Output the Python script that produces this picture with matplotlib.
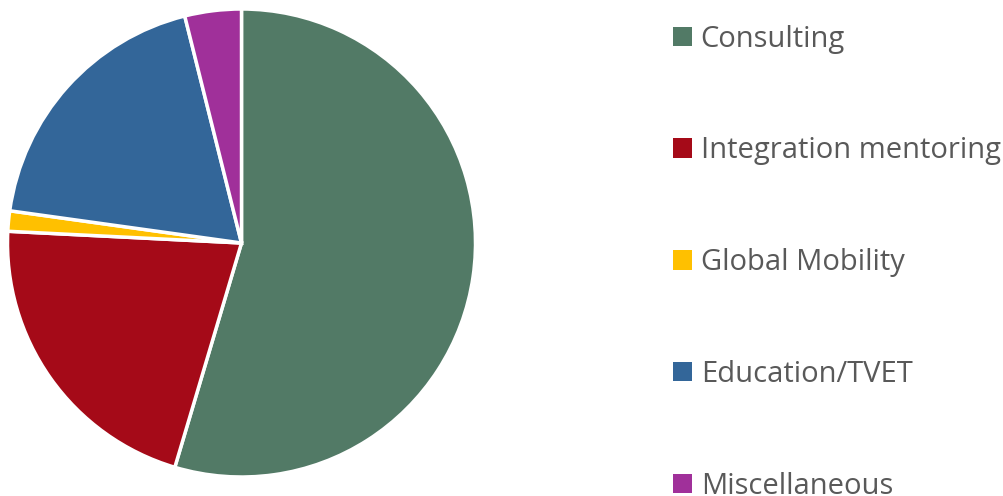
import matplotlib
matplotlib.use("Agg")
import matplotlib.pyplot as plt
from matplotlib.patches import Patch

categories = ["Consulting", "Integration mentoring", "Global Mobility", "Education/TVET", "Miscellaneous"]
shares = [54.6, 21.2, 1.4, 18.9, 3.9]
colors = ["#527A66", "#A50A18", "#FFC000", "#336699", "#A0309A"]

plt.rcParams['font.family'] = ['Open Sans', 'DejaVu Sans']

fig = plt.figure(figsize=(10.04, 4.96), dpi=100)
W, H = 1004, 496
cx, cy, r = 241.5, 496 - 243, 234
ax = fig.add_axes([(cx - r) / W, (cy - r) / H, 2 * r / W, 2 * r / H])
ax.pie(shares, colors=colors, startangle=90, counterclock=False, radius=1,
       wedgeprops=dict(edgecolor="white", linewidth=2.5))
ax.set_xlim(-1.0, 1.0)
ax.set_ylim(-1.0, 1.0)
ax.set_aspect("auto")
ax.axis("off")

handles = [Patch(facecolor=c, edgecolor="none") for c in colors]
leg = fig.legend(handles, categories, loc="upper left", bbox_to_anchor=(673 / W, 1 - 24.5 / H),
                 frameon=False, fontsize=21, labelcolor="#595959",
                 handlelength=0.65, handleheight=0.65, handletextpad=0.3,
                 labelspacing=2.84, borderpad=0, borderaxespad=0)

fig.savefig("out.png", dpi=100)
